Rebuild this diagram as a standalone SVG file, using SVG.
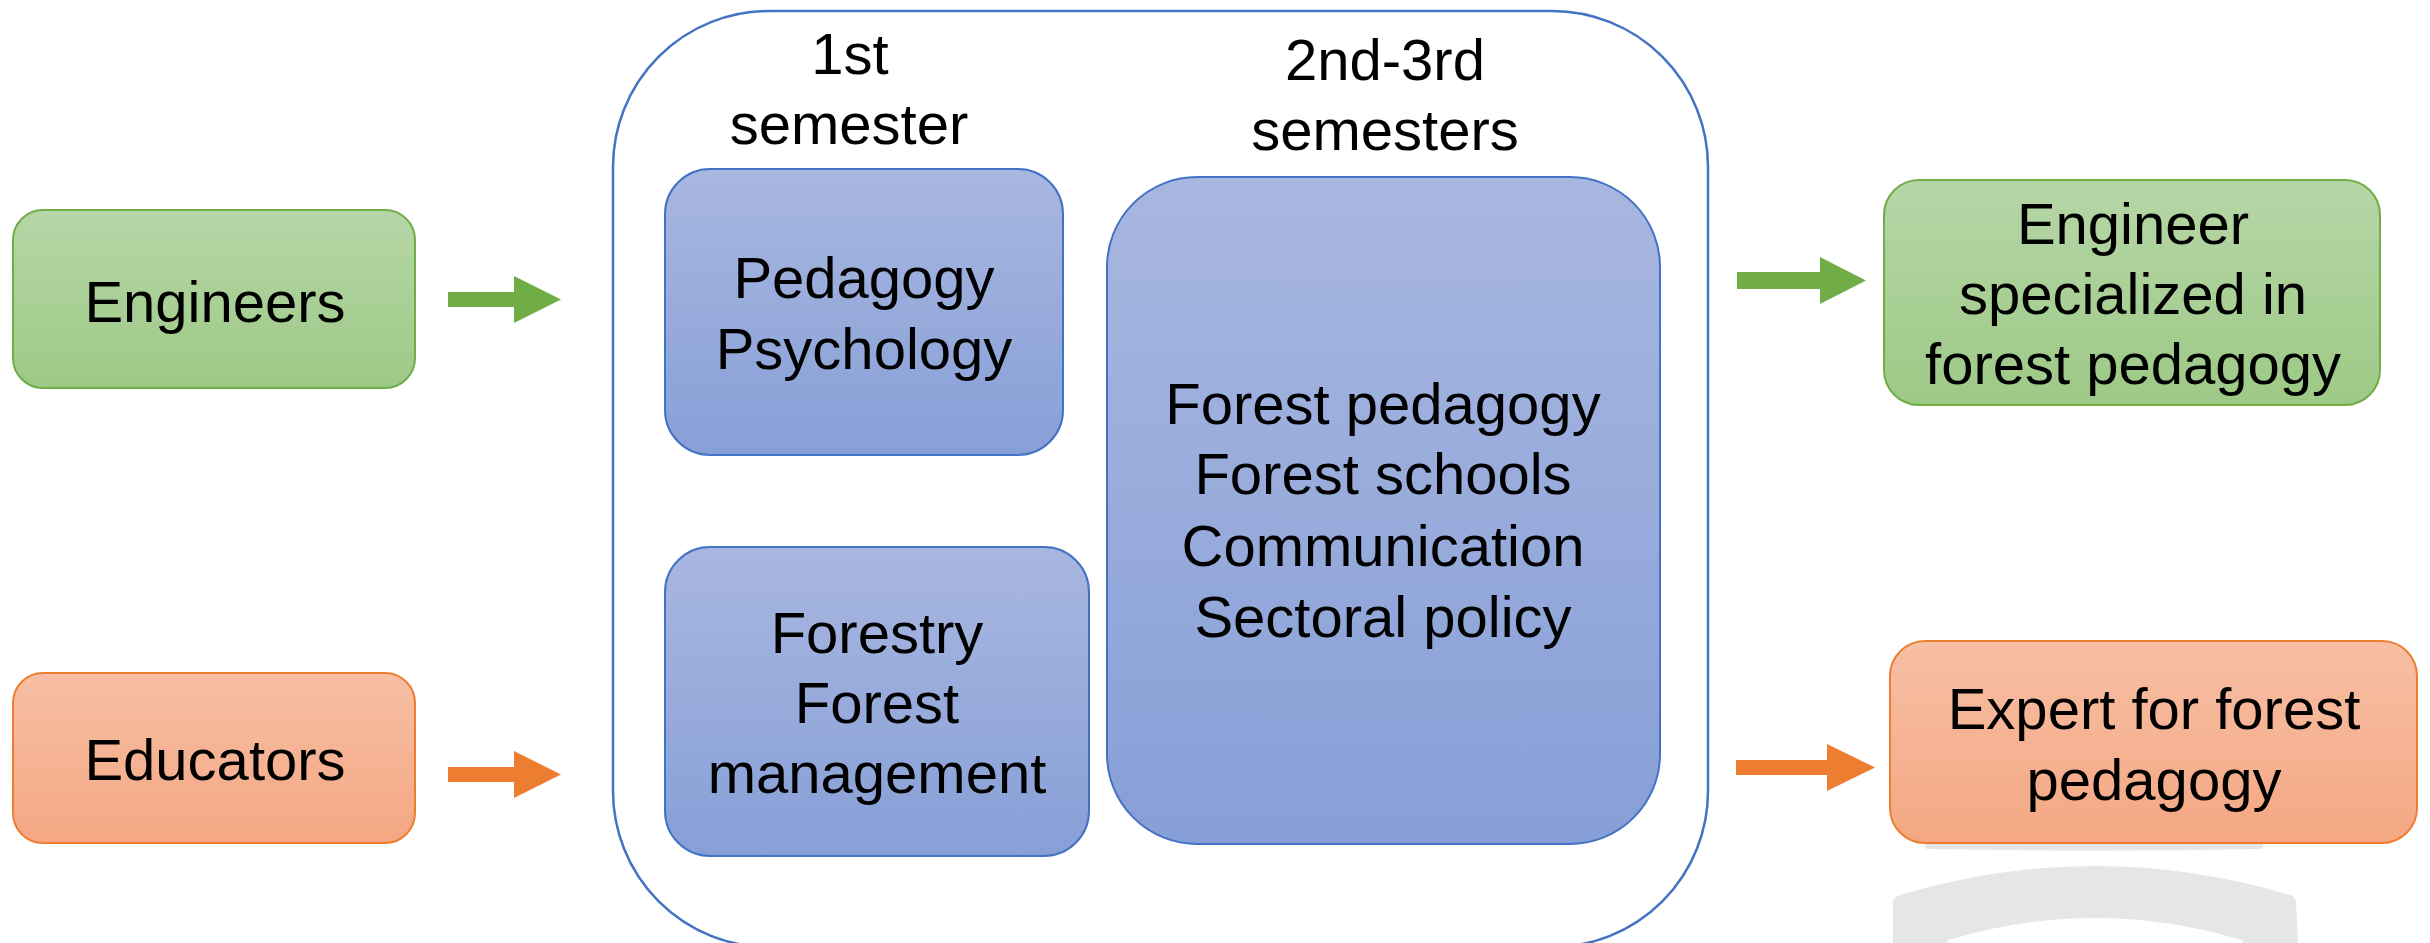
<svg xmlns="http://www.w3.org/2000/svg" width="2430" height="943" viewBox="0 0 2430 943">
<style>
  text { font-family: "Liberation Sans", Arial, sans-serif; font-size: 58px; fill: #000; text-anchor: middle; }
  .green { fill: url(#gGreen); stroke: #70ad47; stroke-width: 2; }
  .orange { fill: url(#gOrange); stroke: #ed7d31; stroke-width: 2; }
  .blue { fill: url(#gBlue); stroke: #4472c4; stroke-width: 2; }
  .container { fill: #fff; stroke: #4472c4; stroke-width: 2.5; }
  .arrG { fill: #70ad47; }
  .arrO { fill: #ed7d31; }
  .wm { fill: #e6e6e6; }
</style>
<defs>
  <linearGradient id="gGreen" x1="0" y1="0" x2="0" y2="1">
    <stop offset="0" stop-color="#b6d6a7"/>
    <stop offset="1" stop-color="#9dc986"/>
  </linearGradient>
  <linearGradient id="gOrange" x1="0" y1="0" x2="0" y2="1">
    <stop offset="0" stop-color="#f7bfa5"/>
    <stop offset="1" stop-color="#f4a782"/>
  </linearGradient>
  <linearGradient id="gBlue" x1="0" y1="0" x2="0" y2="1">
    <stop offset="0" stop-color="#a8b7e0"/>
    <stop offset="1" stop-color="#879fd7"/>
  </linearGradient>
</defs>
<rect width="2430" height="943" fill="#fff"/>

<g id="watermark">
  <path class="wm" d="M1923,838 L2265,838 L2262,849 Q2095,852 1926,849 Z"/>
  <path class="wm" fill-rule="evenodd" d="M1893,943 L1893,903 Q1893,897 1900,895 Q2095,837 2290,895 Q2296,897 2296,903 L2298,943 Z M1947,943 L1947,944 L1947,942 Q1947,940 1952,939 Q2095,897 2238,939 Q2243,940 2243,942 L2243,943 Z"/>
</g>

<g id="program">
  <rect class="container" x="613" y="11" width="1095" height="936" rx="156" ry="156"/>
  <text x="850" y="74">1st</text>
  <text x="849" y="144">semester</text>
  <text x="1385" y="80">2nd-3rd</text>
  <text x="1385" y="150">semesters</text>
</g>

<g id="pedagogy-psychology">
  <rect class="blue" x="665" y="169" width="398" height="286" rx="45" ry="45"/>
  <text x="864" y="298">Pedagogy</text>
  <text x="864" y="369">Psychology</text>
</g>

<g id="forestry">
  <rect class="blue" x="665" y="547" width="424" height="309" rx="45" ry="45"/>
  <text x="877" y="653">Forestry</text>
  <text x="877" y="723">Forest</text>
  <text x="877" y="793">management</text>
</g>

<g id="semesters-2-3">
  <rect class="blue" x="1107" y="177" width="553" height="667" rx="90" ry="90"/>
  <text x="1383" y="424">Forest pedagogy</text>
  <text x="1383" y="494">Forest schools</text>
  <text x="1383" y="566">Communication</text>
  <text x="1383" y="637">Sectoral policy</text>
</g>

<g id="engineers">
  <rect class="green" x="13" y="210" width="402" height="178" rx="30" ry="30"/>
  <text x="215" y="322">Engineers</text>
</g>

<g id="educators">
  <rect class="orange" x="13" y="673" width="402" height="170" rx="30" ry="30"/>
  <text x="215" y="780">Educators</text>
</g>

<g id="engineer-specialized">
  <rect class="green" x="1884" y="180" width="496" height="225" rx="35" ry="35"/>
  <text x="2133" y="244">Engineer</text>
  <text x="2133" y="314">specialized in</text>
  <text x="2133" y="384">forest pedagogy</text>
</g>

<g id="expert">
  <rect class="orange" x="1890" y="641" width="527" height="202" rx="35" ry="35"/>
  <text x="2154" y="729">Expert for forest</text>
  <text x="2154" y="800">pedagogy</text>
</g>

<g id="connectors">
  <path class="arrG" d="M448,292 L514,292 L514,276 L561,299.5 L514,323 L514,307 L448,307 Z"/>
  <path class="arrO" d="M448,767 L514,767 L514,751 L561,774.5 L514,798 L514,782 L448,782 Z"/>
  <path class="arrG" d="M1737,272 L1820,272 L1820,257 L1866,280.5 L1820,304 L1820,289 L1737,289 Z"/>
  <path class="arrO" d="M1736,760 L1827,760 L1827,744 L1875,767.5 L1827,791 L1827,775 L1736,775 Z"/>
</g>
</svg>
